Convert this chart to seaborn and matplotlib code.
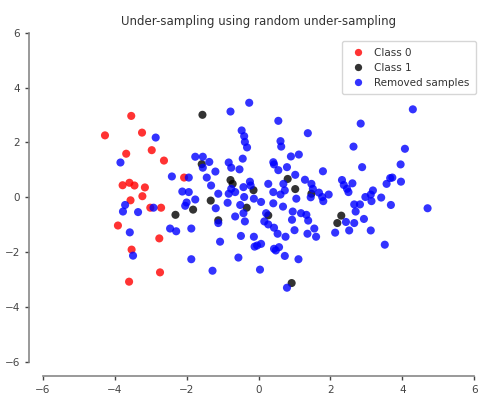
import matplotlib
matplotlib.use("Agg")
import matplotlib.pyplot as plt
import seaborn as sns
import pandas as pd

# Minority class kept by the sampler
class0_x = [-4.27, -3.54, -3.24, -3.68, -2.97, -2.63, -3.78, -3.59, -3.45, -3.16,
            -3.23, -3.56, -3.01, -2.71, -2.07, -3.91, -2.76, -3.53, -3.60, -2.74]
class0_y = [2.26, 2.97, 2.36, 1.59, 1.72, 1.34, 0.44, 0.53, 0.43, 0.36,
            0.04, -0.11, -0.38, -0.38, 0.72, -1.03, -1.50, -1.91, -3.08, -2.74]

# Majority class samples kept by the sampler
class1_x = [-1.56, -1.58, -0.78, -0.72, -1.33, -1.82, -2.31, -1.12, -0.14, 0.81,
            1.02, 1.47, -0.33, 0.27, 2.30, 2.19, 0.92]
class1_y = [3.01, 1.21, 0.63, 0.49, -0.12, -0.45, -0.64, -0.84, 0.26, 0.67,
            0.30, 0.13, -0.38, -0.66, -0.67, -0.94, -3.13]

# Majority class samples dropped by random under-sampling
removed_x = [-2.86, -3.84, -0.78, -0.47, -1.76, -1.55, -1.37, -1.55, -1.20, -0.83,
             -0.76, -0.53, -0.44, -2.41, -1.94, -1.44, -1.32, -2.12, -1.94, -1.12,
             -0.83, -0.65, -0.42, -1.76, -2.00, -2.04, -1.19, -0.86, -0.51, -0.65,
             -0.42, -3.71, -3.77, -3.35, -2.92, -2.46, -2.29, -1.87, -1.12, -0.49,
             -1.07, -3.58, -3.49, -1.87, -1.28, -0.56,
             -0.26, 0.55, 1.37, -0.40, -0.38, -0.32, 0.61, 0.63, 0.90, 1.12,
             0.41, 0.43, 0.55, 0.79, 1.79, -0.76, -0.24, -0.22, -0.40, -0.13,
             0.07, 0.27, 0.41, 0.61, 0.69, 0.73, 1.02, 1.29, 1.47, 1.51,
             1.68, 1.77, 1.95, 1.80, 1.05, 0.41, 0.68, 0.95, 1.18, 1.33,
             1.38, 0.93, 0.21, 0.16, 0.27, 0.43, 0.53, 0.75, 1.00, 1.36,
             1.55, 1.60, -0.38, -0.13, -0.04, 0.07, -0.11, 0.43, 0.48, 0.57,
             0.73, 1.11, 0.04, 0.79, 2.64, 2.84, 4.29, 4.07, 3.95, 2.88,
             3.72, 3.66, 3.96, 3.56, 2.32, 2.37, 2.46, 2.61, 2.50, 3.18,
             3.12, 2.97, 3.14, 3.41, 2.66, 2.82, 2.70, 3.68, 4.70, 2.93,
             2.66, 2.43, 2.52, 3.12, 2.13, 3.51, 1.45]
removed_y = [2.18, 1.27, 3.13, 2.44, 1.48, 1.48, 1.29, 1.08, 0.94, 1.27,
             1.08, 1.02, 1.41, 0.76, 0.72, 0.72, 0.43, 0.21, 0.19, 0.13,
             0.13, 0.19, 0.37, -0.08, -0.19, -0.31, -0.40, -0.20, -0.28, -0.70,
             -0.58, -0.28, -0.52, -0.54, -0.38, -1.14, -1.24, -1.14, -0.94, -1.41,
             -1.62, -1.28, -2.13, -2.26, -2.68, -2.20,
             3.45, 2.79, 2.34, 2.23, 2.02, 1.82, 2.05, 1.85, 1.49, 1.56,
             1.28, 1.20, 0.99, 1.10, 0.95, 0.31, 0.57, 0.43, 0.01, -0.05,
             -0.17, 0.49, 0.19, 0.10, 0.49, 0.25, 0.82, 0.64, 0.49, 0.31,
             0.17, 0.01, 0.10, -0.14, -0.05, -0.22, -0.34, -0.52, -0.58, -0.64,
             -0.85, -0.82, -0.58, -0.88, -0.99, -1.11, -1.33, -1.44, -1.20, -1.33,
             -1.14, -1.44, -0.88, -1.44, -1.76, -1.70, -1.80, -1.88, -1.94, -1.82,
             -2.14, -2.26, -2.64, -3.30, 1.85, 2.69, 3.21, 1.77, 1.20, 1.10,
             0.72, 0.70, 0.57, 0.49, 0.63, 0.45, 0.31, 0.51, 0.19, 0.25,
             0.10, 0.01, -0.14, -0.01, -0.26, -0.26, -0.52, -0.28, -0.40, -0.79,
             -0.94, -0.90, -1.21, -1.21, -1.29, -1.73, 0.00]

labels = ["Class 0", "Class 1", "Removed samples"]
colors = ["r", "k", "b"]
ticks = [-6, -4, -2, 0, 2, 4, 6]

df = pd.concat([
    pd.DataFrame({"x": class0_x, "y": class0_y, "group": labels[0]}),
    pd.DataFrame({"x": class1_x, "y": class1_y, "group": labels[1]}),
    pd.DataFrame({"x": removed_x, "y": removed_y, "group": labels[2]}),
], ignore_index=True)

sns.set_style("ticks")
plt.rcParams["font.family"] = ["DejaVu Sans"]

fig = plt.figure(figsize=(4.86, 4.01), dpi=100)
ax = fig.add_axes([0.088, 0.098, 0.888, 0.82])

sns.scatterplot(data=df, x="x", y="y", hue="group", hue_order=labels,
                palette=dict(zip(labels, colors)), alpha=0.8, s=34,
                linewidth=0, ax=ax)

ax.set_xlim(-6, 6)
ax.set_ylim(-6, 6)
ax.set_xticks(ticks)
ax.set_yticks(ticks)
ax.set_xlabel("")
ax.set_ylabel("")
ax.tick_params(labelsize=7.5, colors="#444444", length=3, width=1)
ax.set_title("Under-sampling using random under-sampling", fontsize=8.5,
             color="#333333")
sns.despine(ax=ax, offset=10, trim=True)
for side in ("left", "bottom"):
    ax.spines[side].set_color("#888888")
    ax.spines[side].set_linewidth(1.2)

leg = ax.legend(loc="upper right", fontsize=7.5, frameon=True,
                markerscale=0.9, borderpad=0.6, handletextpad=0.5,
                bbox_to_anchor=(1.015, 0.99))
leg.get_frame().set_edgecolor("#cccccc")
for t in leg.get_texts():
    t.set_color("#333333")

fig.savefig("out.png", dpi=100)
